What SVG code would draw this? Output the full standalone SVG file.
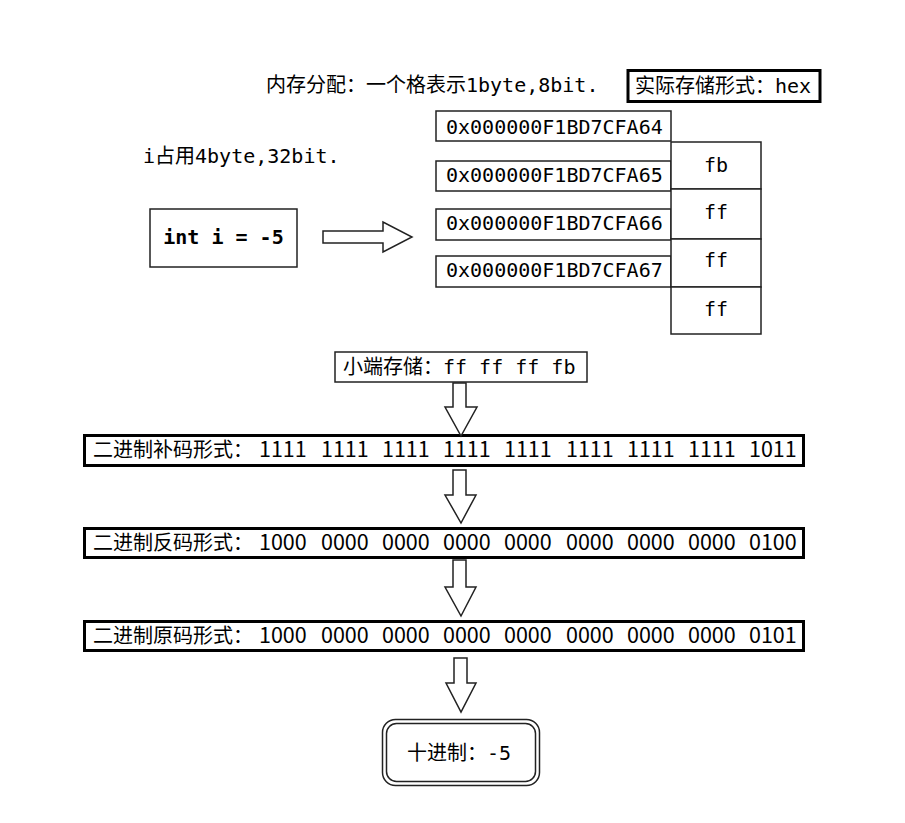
<svg xmlns="http://www.w3.org/2000/svg" width="905" height="823" viewBox="0 0 905 823">
<style>
  .t { font-family: "DejaVu Sans Mono", "Noto Sans CJK SC", monospace; font-size: 20px; fill: #000; }
  .b { font-family: "Noto Sans CJK SC", "Noto Sans", sans-serif; font-size: 20px; fill: #000; }
  .b tspan { font-size: 21.5px; }
  .box { fill: #fff; stroke: #222; stroke-width: 1.5; }
  .thick { fill: #fff; stroke: #000; stroke-width: 3; }
  .arrow { fill: #fff; stroke: #222; stroke-width: 1.5; stroke-linejoin: miter; }
</style>
<rect width="905" height="823" fill="#fff"/>

<g id="title">
  <text class="t" x="266" y="92">内存分配：一个格表示1byte,8bit.</text>
</g>
<g id="hex">
  <rect class="thick" x="628" y="70.5" width="192" height="31"/>
  <text class="t" x="635" y="93">实际存储形式：hex</text>
</g>
<g id="size">
  <text class="t" x="143" y="163">i占用4byte,32bit.</text>
</g>
<g id="decl">
  <rect class="box" x="150" y="209" width="147" height="58"/>
  <text class="t" x="223.5" y="244" text-anchor="middle" font-weight="bold">int i = -5</text>
</g>

<g id="memory">
  <rect class="box" x="436" y="111" width="235" height="30"/>
  <text class="t" x="446" y="134">0x000000F1BD7CFA64</text>
  <rect class="box" x="436" y="161" width="235" height="30"/>
  <text class="t" x="446" y="182">0x000000F1BD7CFA65</text>
  <rect class="box" x="436" y="209" width="235" height="31"/>
  <text class="t" x="446" y="230">0x000000F1BD7CFA66</text>
  <rect class="box" x="436" y="256" width="235" height="31"/>
  <text class="t" x="446" y="277">0x000000F1BD7CFA67</text>

  <rect class="box" x="671" y="142" width="90" height="47"/>
  <text class="t" x="716" y="172" text-anchor="middle">fb</text>
  <rect class="box" x="671" y="189" width="90" height="50"/>
  <text class="t" x="716" y="219" text-anchor="middle">ff</text>
  <rect class="box" x="671" y="239" width="90" height="48"/>
  <text class="t" x="716" y="267" text-anchor="middle">ff</text>
  <rect class="box" x="671" y="287" width="90" height="47"/>
  <text class="t" x="716" y="316" text-anchor="middle">ff</text>
</g>

<g id="little">
  <rect class="box" x="335" y="352" width="252" height="30"/>
  <text class="t" x="343" y="374">小端存储：ff ff ff fb</text>
</g>

<g id="comp">
  <rect class="thick" x="84.5" y="435.5" width="719" height="30"/>
  <text class="b" x="93" y="457">二进制补码形式：<tspan x="259">1111</tspan><tspan x="321">1111</tspan><tspan x="382">1111</tspan><tspan x="443">1111</tspan><tspan x="504">1111</tspan><tspan x="566">1111</tspan><tspan x="627">1111</tspan><tspan x="688">1111</tspan><tspan x="749">1011</tspan></text>
</g>
<g id="ones">
  <rect class="thick" x="84.5" y="528.5" width="719" height="29"/>
  <text class="b" x="93" y="550">二进制反码形式：<tspan x="259">1000</tspan><tspan x="321">0000</tspan><tspan x="382">0000</tspan><tspan x="443">0000</tspan><tspan x="504">0000</tspan><tspan x="566">0000</tspan><tspan x="627">0000</tspan><tspan x="688">0000</tspan><tspan x="749">0100</tspan></text>
</g>
<g id="orig">
  <rect class="thick" x="84.5" y="621.5" width="719" height="29"/>
  <text class="b" x="93" y="643">二进制原码形式：<tspan x="259">1000</tspan><tspan x="321">0000</tspan><tspan x="382">0000</tspan><tspan x="443">0000</tspan><tspan x="504">0000</tspan><tspan x="566">0000</tspan><tspan x="627">0000</tspan><tspan x="688">0000</tspan><tspan x="749">0101</tspan></text>
</g>

<g id="decimal">
  <rect x="382.5" y="719.5" width="157" height="66" rx="13" fill="#fff" stroke="#222" stroke-width="1.5"/>
  <rect x="386.5" y="723.5" width="149" height="58" rx="10" fill="none" stroke="#222" stroke-width="1.5"/>
  <text class="t" x="407" y="760">十进制：-5</text>
</g>

<g id="connectors">
  <polygon class="arrow" points="323,231 383,231 383,222 412,237 383,252 383,243 323,243"/>
  <polygon class="arrow" points="453,383 466,383 466,407 477,407 461,436 445,407 453,407"/>
  <polygon class="arrow" points="453,470 466,470 466,495 476,495 461,523 445,495 453,495"/>
  <polygon class="arrow" points="453,560 466,560 466,587 476,587 461,616 445,587 453,587"/>
  <polygon class="arrow" points="454,658 467,658 467,683 476,683 461,712 446,683 454,683"/>
</g>
</svg>
